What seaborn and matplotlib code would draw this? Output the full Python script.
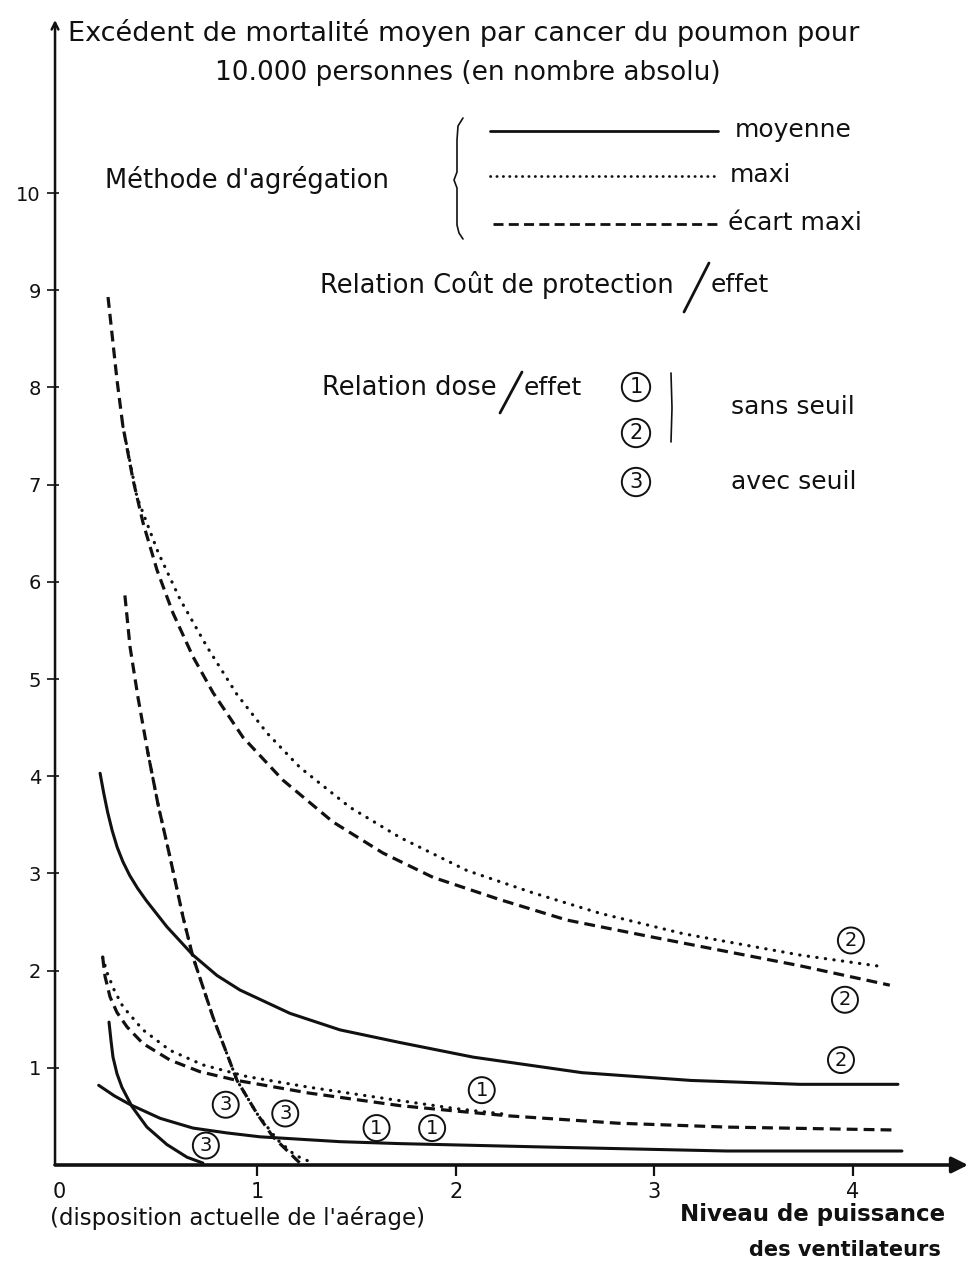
import matplotlib
matplotlib.use("Agg")
import matplotlib.pyplot as plt
from matplotlib.lines import Line2D
import seaborn as sns

# --- Courbes : niveau de puissance des ventilateurs -> excédent de mortalité ---
# méthode "moyenne" (trait plein)
moyenne_1_x = [0.20, 0.28, 0.36, 0.51, 0.675, 0.846, 1.013, 1.416, 1.718, 2.448, 3.365, 4.247]
moyenne_1_y = [0.82, 0.71, 0.62, 0.48, 0.38, 0.33, 0.29, 0.24, 0.22, 0.185, 0.144, 0.144]
moyenne_2_x = [0.207, 0.225, 0.245, 0.268, 0.293, 0.322, 0.356, 0.395, 0.44, 0.49, 0.544,
               0.675, 0.796, 0.912, 1.164, 1.416, 1.718, 2.086, 2.635, 3.184, 3.733, 4.227]
moyenne_2_y = [4.03, 3.83, 3.63, 3.44, 3.27, 3.12, 2.98, 2.85, 2.72, 2.59, 2.45,
               2.16, 1.95, 1.80, 1.56, 1.39, 1.26, 1.11, 0.95, 0.87, 0.83, 0.83]
moyenne_3_x = [0.252, 0.262, 0.272, 0.292, 0.317, 0.368, 0.443, 0.544, 0.645, 0.725]
moyenne_3_y = [1.47, 1.28, 1.11, 0.94, 0.80, 0.60, 0.39, 0.21, 0.08, 0.02]

# méthode "maxi" (pointillé)
maxi_1_x = [0.22, 0.242, 0.28, 0.322, 0.423, 0.559, 0.725, 0.947, 1.26, 1.69, 2.00, 2.26]
maxi_1_y = [2.14, 1.98, 1.79, 1.63, 1.39, 1.18, 1.03, 0.91, 0.80, 0.67, 0.58, 0.52]
maxi_2_x = [0.322, 0.393, 0.50, 0.61, 0.746, 0.897, 1.05, 1.214, 1.466, 1.718, 2.055,
            2.388, 2.725, 3.144, 3.733, 4.151]
maxi_2_y = [7.60, 6.87, 6.30, 5.82, 5.33, 4.84, 4.44, 4.09, 3.68, 3.37, 3.03,
            2.80, 2.59, 2.38, 2.16, 2.04]
maxi_3_x = [0.448, 0.50, 0.559, 0.625, 0.675, 0.776, 0.897, 0.997, 1.10, 1.19, 1.28]
maxi_3_y = [4.24, 3.70, 3.17, 2.55, 2.14, 1.52, 0.87, 0.53, 0.26, 0.10, 0.02]

# méthode "écart maxi" (tireté)
ecart_1_x = [0.22, 0.232, 0.257, 0.292, 0.343, 0.423, 0.559, 0.71, 0.897, 1.26, 1.72,
             2.00, 2.27, 2.816, 3.365, 4.211]
ecart_1_y = [2.14, 1.94, 1.73, 1.57, 1.42, 1.25, 1.08, 0.96, 0.87, 0.74, 0.61,
             0.555, 0.505, 0.43, 0.39, 0.36]
ecart_2_x = [0.247, 0.292, 0.322, 0.373, 0.423, 0.494, 0.574, 0.675, 0.776, 0.927, 1.128,
             1.38, 1.632, 1.884, 2.222, 2.559, 2.977, 3.229, 3.733, 4.186]
ecart_2_y = [8.93, 8.08, 7.60, 7.05, 6.61, 6.12, 5.68, 5.23, 4.86, 4.40, 3.96,
             3.53, 3.21, 2.96, 2.73, 2.52, 2.35, 2.25, 2.05, 1.85]
ecart_3_x = [0.332, 0.358, 0.398, 0.448, 0.50, 0.559, 0.625, 0.675, 0.776, 0.897, 0.997,
             1.078, 1.214]
ecart_3_y = [5.86, 5.33, 4.81, 4.24, 3.70, 3.17, 2.55, 2.14, 1.52, 0.87, 0.53,
             0.29, 0.02]

# repères cerclés (relation dose/effet) posés sur les courbes
repere_txt = ["2", "2", "2", "1", "1", "1", "3", "3", "3"]
repere_x = [3.99, 3.96, 3.94, 2.13, 1.60, 1.88, 0.84, 1.14, 0.74]
repere_y = [2.31, 1.70, 1.08, 0.77, 0.38, 0.38, 0.62, 0.53, 0.20]

x_ticks = [0, 1, 2, 3, 4]
y_ticks = [1, 2, 3, 4, 5, 6, 7, 8, 9, 10]

INK = "#111111"
W, H = 971, 1265

sns.set_theme(style="white")
plt.rcParams["font.family"] = ["DejaVu Sans"]
plt.rcParams["text.color"] = INK

fig = plt.figure(figsize=(W / 100, H / 100), dpi=100)
ax = fig.add_axes([59 / W, 100 / H, 909 / W, 1145 / H])
ax.set_xlim(0, 4.58)
ax.set_ylim(0, 11.78)
ax.set_facecolor("white")

solid = dict(linestyle="-", linewidth=2.2, solid_joinstyle="round")
dotted = dict(linestyle=(0, (0.1, 2.6)), linewidth=2.3, dash_capstyle="round")
dashed = dict(linestyle=(0, (3.4, 1.9)), linewidth=2.3)

curves = [
    (moyenne_1_x, moyenne_1_y, solid), (moyenne_2_x, moyenne_2_y, solid),
    (moyenne_3_x, moyenne_3_y, solid),
    (maxi_1_x, maxi_1_y, dotted), (maxi_2_x, maxi_2_y, dotted), (maxi_3_x, maxi_3_y, dotted),
    (ecart_1_x, ecart_1_y, dashed), (ecart_2_x, ecart_2_y, dashed), (ecart_3_x, ecart_3_y, dashed),
]
for cx, cy, style in curves:
    sns.lineplot(x=cx, y=cy, ax=ax, color=INK, sort=False, estimator=None, **style)

for t, rx, ry in zip(repere_txt, repere_x, repere_y):
    ax.text(rx, ry, t, ha="center", va="center", fontsize=14, color=INK,
            bbox=dict(boxstyle="circle,pad=0.18", fc="none", ec=INK, lw=1.4))

# axes with arrow heads
for s in ax.spines.values():
    s.set_visible(False)
ax.annotate("", xy=(4.58, 0), xytext=(-0.02, 0), xycoords="data", annotation_clip=False,
            arrowprops=dict(arrowstyle="-|>", color=INK, lw=2.6, mutation_scale=24,
                            shrinkA=0, shrinkB=0))
ax.annotate("", xy=(-0.02, 11.78), xytext=(-0.02, 0), xycoords="data", annotation_clip=False,
            arrowprops=dict(arrowstyle="->", color=INK, lw=1.8, mutation_scale=12,
                            shrinkA=0, shrinkB=0))

ax.set_xticks(x_ticks)
ax.set_xticklabels([str(v) for v in x_ticks])
ax.set_yticks(y_ticks)
ax.set_yticklabels([str(v) for v in y_ticks])
ax.tick_params(axis="x", bottom=True, direction="out", length=8, width=1.6, pad=4,
               labelsize=15, colors=INK)
ax.tick_params(axis="y", left=True, direction="out", length=9, width=1.2, pad=4,
               labelsize=14, colors=INK)
ax.xaxis.get_major_ticks()[0].tick1line.set_visible(False)
ax.grid(False)


def ftext(px, py, s, **kw):
    kw.setdefault("va", "center")
    kw.setdefault("ha", "left")
    fig.text(px / W, 1 - py / H, s, color=INK, **kw)


def fline(pxs, pys, **kw):
    fig.add_artist(Line2D([p / W for p in pxs], [1 - p / H for p in pys], color=INK, **kw))


# titre de l'axe vertical
ftext(68, 33, "Excédent de mortalité moyen par cancer du poumon pour", fontsize=19.5)
ftext(215, 73, "10.000 personnes (en nombre absolu)", fontsize=19)

# méthode d'agrégation
ftext(105, 180, "Méthode d'agrégation", fontsize=18.5)
fline([463, 458, 457, 457, 454, 457, 457, 459, 463],
      [118, 126, 140, 172, 180, 188, 225, 233, 239], lw=1.2)
fline([490, 718], [131, 131], lw=2.0, linestyle="-")
fline([490, 718], [176, 176], lw=2.0, linestyle=(0, (0.1, 2.2)), dash_capstyle="round")
fline([493, 718], [224, 224], lw=2.0, linestyle=(0, (3.6, 1.9)))
ftext(735, 130, "moyenne", fontsize=18)
ftext(730, 175, "maxi", fontsize=18)
ftext(728, 223, "écart maxi", fontsize=18)

# relation coût de protection / effet
ftext(320, 285, "Relation Coût de protection", fontsize=18.5)
fline([684, 709], [312, 263], lw=2.0)
ftext(711, 285, "effet", fontsize=18)

# relation dose / effet
ftext(322, 388, "Relation dose", fontsize=18.5)
fline([500, 522], [413, 372], lw=2.0)
ftext(524, 388, "effet", fontsize=18)
for num, py in (("1", 387), ("2", 433), ("3", 482)):
    ftext(636, py, num, fontsize=15, ha="center",
          bbox=dict(boxstyle="circle,pad=0.2", fc="none", ec=INK, lw=1.4))
fline([671, 672, 671], [373, 408, 442], lw=1.2)
ftext(731, 407, "sans seuil", fontsize=18)
ftext(731, 482, "avec seuil", fontsize=18)

# légendes de l'axe horizontal
ftext(50, 1218, "(disposition actuelle de l'aérage)", fontsize=16.5)
ftext(680, 1215, "Niveau de puissance", fontsize=16.5, fontweight="bold")
ftext(845, 1250, "des ventilateurs", fontsize=15, fontweight="bold", ha="center")

fig.savefig("out.png", dpi=100, facecolor="white")
